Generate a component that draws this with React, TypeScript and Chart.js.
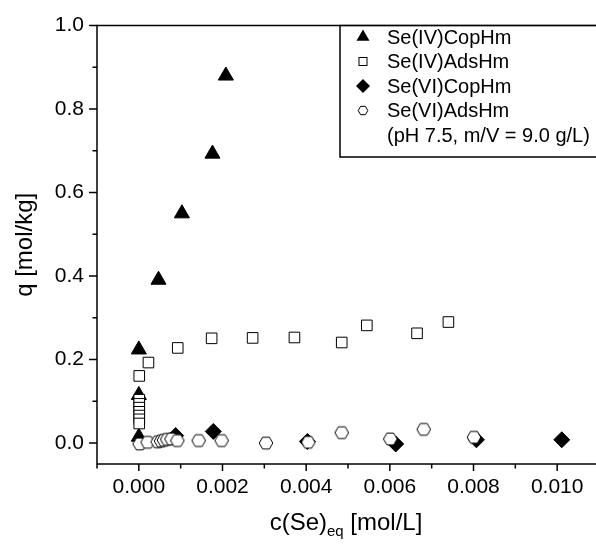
import React, { useEffect, useRef } from 'react';
import { Chart, registerables } from 'chart.js';
Chart.register(...registerables);

const FONT = "'Liberation Sans', Arial, Helvetica, sans-serif";

const seriesLabels = ['Se(IV)CopHm', 'Se(IV)AdsHm', 'Se(VI)CopHm', 'Se(VI)AdsHm'];
const legendNote = '(pH 7.5, m/V = 9.0 g/L)';
const xTitleMain = 'c(Se)';
const xTitleSub = 'eq';
const xTitleUnit = ' [mol/L]';
const yTitle = 'q [mol/kg]';

const xTickLabels = ['0.000', '0.002', '0.004', '0.006', '0.008', '0.010'];
const yTickLabels = ['0.0', '0.2', '0.4', '0.6', '0.8', '1.0'];

// Se(IV)CopHm (filled triangles)
const se4CopX = [0.0, 0.0, 0.0, 0.00047, 0.00103, 0.00176, 0.00208];
const se4CopY = [0.015, 0.115, 0.224, 0.391, 0.55, 0.693, 0.88];

// Se(IV)AdsHm (open squares)
const se4AdsX = [0.00001, 0.00001, 0.00001, 0.00001, 0.00001, 0.00001, 0.00001, 0.00001, 0.00023, 0.00093, 0.00174, 0.00272, 0.00372, 0.00485, 0.00545, 0.00665, 0.0074];
const se4AdsY = [0.104, 0.094, 0.085, 0.075, 0.066, 0.057, 0.047, 0.161, 0.193, 0.228, 0.251, 0.252, 0.253, 0.241, 0.282, 0.263, 0.29];

// Se(VI)CopHm (filled diamonds)
const se6CopX = [0.00088, 0.00178, 0.00403, 0.00614, 0.00807, 0.01011];
const se6CopY = [0.018, 0.028, 0.004, -0.002, 0.008, 0.008];

// Se(VI)AdsHm (open hexagons)
const se6AdsX = [0.00002, 0.00021, 0.00045, 0.00053, 0.0006, 0.00068, 0.00078, 0.00092, 0.00143, 0.00198, 0.00304, 0.00405, 0.00485, 0.00601, 0.00681, 0.00801];
const se6AdsY = [-0.002, 0.002, 0.003, 0.005, 0.007, 0.009, 0.01, 0.006, 0.006, 0.006, 0.0, 0.002, 0.025, 0.01, 0.033, 0.014];

const toPts = (xs: number[], ys: number[]) => xs.map((x, i) => ({ x, y: ys[i] }));

function hexPath(ctx: CanvasRenderingContext2D, cx: number, cy: number, r: number) {
  ctx.beginPath();
  for (let i = 0; i < 6; i++) {
    const a = (Math.PI / 3) * i;
    const px = cx + r * Math.cos(a);
    const py = cy + r * Math.sin(a);
    if (i === 0) ctx.moveTo(px, py);
    else ctx.lineTo(px, py);
  }
  ctx.closePath();
}

function makeHexCanvas(r: number) {
  const size = Math.ceil(r * 2 + 4);
  const c = document.createElement('canvas');
  c.width = size;
  c.height = size;
  const ctx = c.getContext('2d')!;
  hexPath(ctx, size / 2, size / 2, r);
  ctx.fillStyle = '#fff';
  ctx.fill();
  ctx.strokeStyle = '#000';
  ctx.lineWidth = 1;
  ctx.stroke();
  return c;
}

function drawSymbol(ctx: CanvasRenderingContext2D, kind: number, x: number, y: number) {
  ctx.save();
  ctx.strokeStyle = '#000';
  ctx.lineWidth = 1;
  if (kind === 0) {
    const r = 7.5;
    ctx.beginPath();
    ctx.moveTo(x, y - r);
    ctx.lineTo(x + r * 0.866, y + r * 0.5);
    ctx.lineTo(x - r * 0.866, y + r * 0.5);
    ctx.closePath();
    ctx.fillStyle = '#000';
    ctx.fill();
  } else if (kind === 1) {
    const s = 8;
    ctx.fillStyle = '#fff';
    ctx.fillRect(x - s / 2, y - s / 2, s, s);
    ctx.strokeRect(x - s / 2, y - s / 2, s, s);
  } else if (kind === 2) {
    const r = 7;
    ctx.beginPath();
    ctx.moveTo(x, y - r);
    ctx.lineTo(x + r, y);
    ctx.lineTo(x, y + r);
    ctx.lineTo(x - r, y);
    ctx.closePath();
    ctx.fillStyle = '#000';
    ctx.fill();
  } else {
    hexPath(ctx, x, y, 4.8);
    ctx.fillStyle = '#fff';
    ctx.fill();
    ctx.stroke();
  }
  ctx.restore();
}

const decorPlugin = {
  id: 'decor',
  beforeDraw(chart: any) {
    const ctx = chart.ctx;
    ctx.save();
    ctx.fillStyle = '#fff';
    ctx.fillRect(0, 0, chart.width, chart.height);
    ctx.restore();
  },
  afterDraw(chart: any) {
    const ctx: CanvasRenderingContext2D = chart.ctx;
    const { left, right, top, bottom } = chart.chartArea;
    ctx.save();
    ctx.strokeStyle = '#000';
    ctx.lineWidth = 1.5;
    ctx.beginPath();
    ctx.moveTo(left, bottom);
    ctx.lineTo(left, top);
    ctx.lineTo(right, top);
    ctx.lineTo(right, bottom);
    ctx.lineTo(left, bottom);
    ctx.stroke();

    // tick marks
    const xs = chart.scales.x;
    ctx.beginPath();
    xs.ticks.forEach((t: any) => {
      const px = xs.getPixelForValue(t.value);
      const major = Math.round(t.value * 1000) % 2 === 0;
      ctx.moveTo(px, bottom);
      ctx.lineTo(px, bottom + (major ? 7 : 4.5));
    });
    const ys = chart.scales.y;
    ys.ticks.forEach((t: any) => {
      const py = ys.getPixelForValue(t.value);
      const major = Math.round(t.value * 10) % 2 === 0;
      ctx.moveTo(left, py);
      ctx.lineTo(left - (major ? 8 : 4.5), py);
    });
    ctx.stroke();

    // axis titles
    ctx.fillStyle = '#000';
    ctx.font = `24px ${FONT}`;
    ctx.textBaseline = 'alphabetic';
    const subFont = `15px ${FONT}`;
    const wMain = ctx.measureText(xTitleMain).width;
    const wUnit = ctx.measureText(xTitleUnit).width;
    ctx.font = subFont;
    const wSub = ctx.measureText(xTitleSub).width;
    const total = wMain + wSub + wUnit;
    let tx = 346 - total / 2;
    const ty = 530;
    ctx.font = `24px ${FONT}`;
    ctx.textAlign = 'left';
    ctx.fillText(xTitleMain, tx, ty);
    tx += wMain;
    ctx.font = subFont;
    ctx.fillText(xTitleSub, tx, ty + 6);
    tx += wSub;
    ctx.font = `24px ${FONT}`;
    ctx.fillText(xTitleUnit, tx, ty);

    ctx.save();
    ctx.translate(32, (top + bottom) / 2);
    ctx.rotate(-Math.PI / 2);
    ctx.textAlign = 'center';
    ctx.textBaseline = 'alphabetic';
    ctx.font = `24px ${FONT}`;
    ctx.fillText(yTitle, 0, 0);
    ctx.restore();

    // legend box
    ctx.lineWidth = 1.5;
    ctx.fillStyle = '#fff';
    ctx.fillRect(340, top, chart.width, 157 - top);
    ctx.strokeRect(340, top, chart.width, 157 - top);
    const rowsY = [37, 61.5, 86, 110.5, 135];
    ctx.font = `20px ${FONT}`;
    ctx.textAlign = 'left';
    ctx.textBaseline = 'middle';
    ctx.fillStyle = '#000';
    seriesLabels.forEach((lab, i) => {
      drawSymbol(ctx, i, 363, rowsY[i]);
      ctx.fillStyle = '#000';
      ctx.fillText(lab, 387, rowsY[i] + 1);
    });
    ctx.fillText(legendNote, 387, rowsY[4] + 1);
    ctx.restore();
  },
};

export default function App() {
  const ref = useRef<HTMLCanvasElement>(null);
  useEffect(() => {
    if (!ref.current) return;
    const hex = makeHexCanvas(6.8);
    const chart = new Chart(ref.current, {
      type: 'scatter',
      data: {
        datasets: [
          {
            label: seriesLabels[0],
            data: toPts(se4CopX, se4CopY),
            pointStyle: 'triangle',
            pointRadius: 8.7,
            backgroundColor: '#000',
            borderColor: '#000',
            borderWidth: 1,
            order: 4,
          },
          {
            label: seriesLabels[1],
            data: toPts(se4AdsX, se4AdsY),
            pointStyle: 'rect',
            pointRadius: 7.5,
            backgroundColor: '#fff',
            borderColor: '#000',
            borderWidth: 1,
            order: 3,
          },
          {
            label: seriesLabels[2],
            data: toPts(se6CopX, se6CopY),
            pointStyle: 'rectRot',
            pointRadius: 8,
            backgroundColor: '#000',
            borderColor: '#000',
            borderWidth: 1,
            order: 2,
          },
          {
            label: seriesLabels[3],
            data: toPts(se6AdsX, se6AdsY),
            pointStyle: hex as any,
            pointRadius: 7,
            backgroundColor: '#fff',
            borderColor: '#000',
            borderWidth: 1,
            order: 1,
          },
        ],
      },
      options: {
        responsive: false,
        animation: false,
        devicePixelRatio: 1,
        layout: { padding: { left: 0, top: 18, right: 4.5, bottom: 0 } },
        plugins: { legend: { display: false }, tooltip: { enabled: false } },
        scales: {
          x: {
            type: 'linear',
            min: -0.001,
            max: 0.011,
            afterFit: (s: any) => {
              s.height = 82;
            },
            grid: { display: false, drawTicks: false },
            border: { display: false },
            ticks: {
              stepSize: 0.001,
              autoSkip: false,
              maxRotation: 0,
              minRotation: 0,
              includeBounds: false,
              padding: 11,
              color: '#000',
              font: { family: FONT, size: 21 },
              callback: (v: any) => {
                const s = Number(v).toFixed(3);
                return xTickLabels.includes(s) ? s : '';
              },
            },
          },
          y: {
            type: 'linear',
            min: -0.05,
            max: 1.0,
            afterFit: (s: any) => {
              s.width = 97;
            },
            grid: { display: false, drawTicks: false },
            border: { display: false },
            ticks: {
              stepSize: 0.1,
              autoSkip: false,
              includeBounds: false,
              padding: 13,
              color: '#000',
              font: { family: FONT, size: 21 },
              callback: (v: any) => {
                const s = Number(v).toFixed(1);
                return yTickLabels.includes(s) ? s : '';
              },
            },
          },
        },
      },
      plugins: [decorPlugin],
    });
    return () => chart.destroy();
  }, []);
  return (
    <div style={{ position: 'fixed', left: 0, top: 0, width: 596, height: 546, overflow: 'hidden', background: '#fff' }}>
      <canvas ref={ref} width={610} height={546} style={{ display: 'block' }} />
    </div>
  );
}
